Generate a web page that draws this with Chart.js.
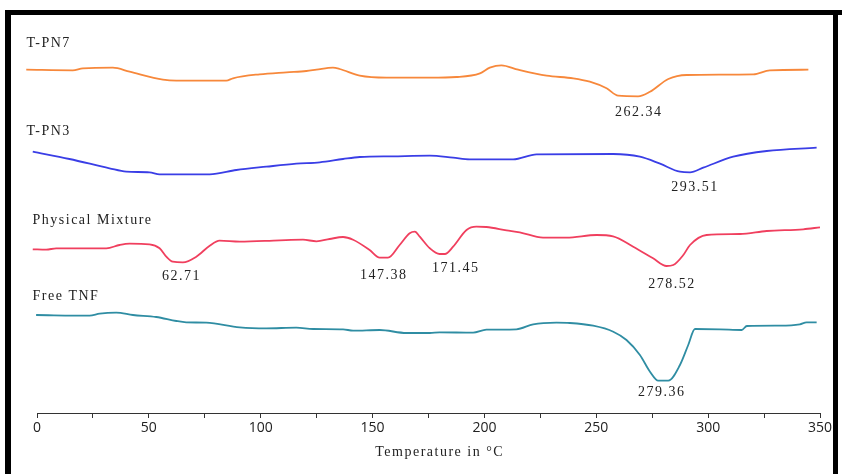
<!DOCTYPE html>
<html>
<head>
<meta charset="utf-8">
<script src="https://cdn.jsdelivr.net/npm/chart.js@4.4.0/dist/chart.umd.min.js"></script>
<style>
  body { margin: 0; background: #fff; }
  #wrap { position: relative; width: 842px; height: 474px; }
  .bar { position: absolute; background: #000; }
</style>
</head>
<body>
<div id="wrap">
  <canvas id="dsc" width="842" height="474"></canvas>
  <div class="bar" style="left:5px;top:10px;width:837px;height:5px"></div>
  <div class="bar" style="left:5px;top:10px;width:6px;height:464px"></div>
  <div class="bar" style="left:833px;top:10px;width:5px;height:464px"></div>
</div>
<script>
// ---------------- data (temperature in degC, curve value = offset heat flow, arbitrary units) ----------------
var tpn7T = [-4.8, 16.0, 20.5, 33.9, 41.4, 56.3, 62.3, 84.6, 87.6, 99.5, 111.5, 120.4, 124.9, 132.3, 135.3, 144.3, 156.2, 175.6, 187.5, 198.0, 202.4, 207.6, 215.1, 227.8, 239.7, 247.1, 254.6, 259.8, 268.7, 274.0, 282.2, 290.4, 320.2, 327.6, 344.8];
var tpn7V = [343.3, 342.7, 344.7, 345.3, 341.3, 333.3, 332.3, 332.3, 334.7, 338.7, 340.7, 342.0, 343.3, 345.3, 344.0, 337.3, 335.3, 335.3, 336.0, 339.7, 345.3, 347.7, 343.3, 337.3, 334.7, 331.3, 324.7, 317.3, 316.7, 321.3, 334.0, 338.0, 338.7, 342.7, 343.3];

var tpn3T = [-1.9, 14.5, 32.4, 39.9, 50.3, 54.8, 77.2, 89.1, 102.5, 115.9, 126.4, 136.8, 144.3, 159.1, 175.6, 186.0, 193.5, 212.8, 223.3, 257.6, 269.5, 278.5, 287.4, 291.9, 297.8, 311.2, 326.2, 348.5];
var tpn3V = [261.3, 254.0, 244.7, 241.3, 240.7, 238.7, 238.7, 243.0, 246.3, 249.3, 250.7, 254.0, 256.0, 256.7, 257.3, 255.3, 253.7, 253.7, 258.7, 259.0, 256.3, 249.3, 241.3, 240.7, 245.3, 256.3, 262.0, 265.3];

var pmT = [-1.9, 4.1, 8.6, 31.0, 36.9, 41.4, 50.3, 54.8, 57.8, 60.7, 65.2, 71.2, 77.2, 81.6, 90.6, 108.5, 118.9, 124.9, 130.8, 136.8, 141.3, 148.7, 153.2, 156.9, 162.1, 166.6, 168.9, 171.1, 175.6, 180.0, 182.3, 186.0, 192.0, 196.4, 200.9, 209.9, 215.8, 226.2, 236.7, 250.1, 257.5, 266.5, 275.4, 281.4, 284.4, 288.9, 291.9, 299.3, 314.2, 326.2, 342.5, 350.0];
var pmV = [163.7, 163.3, 164.7, 164.7, 168.0, 169.3, 168.7, 164.7, 156.3, 151.3, 150.7, 156.3, 167.3, 172.3, 171.3, 172.7, 173.3, 171.7, 174.0, 176.0, 173.3, 163.0, 155.3, 155.3, 168.0, 179.7, 181.3, 176.3, 164.7, 159.0, 159.0, 166.3, 183.0, 186.3, 186.0, 182.7, 180.7, 175.3, 175.3, 178.0, 176.7, 166.3, 154.7, 147.0, 148.0, 158.0, 168.0, 178.0, 179.0, 182.0, 183.7, 185.7];

var tnfT = [-0.4, 23.5, 28.0, 35.4, 42.9, 53.3, 62.3, 66.7, 75.7, 90.6, 102.5, 115.9, 123.4, 136.8, 141.3, 153.2, 165.1, 175.6, 180.0, 194.9, 200.9, 214.3, 221.8, 232.2, 238.2, 248.6, 257.6, 263.5, 269.5, 274.0, 277.7, 282.2, 287.4, 291.1, 294.1, 305.3, 315.0, 317.3, 332.1, 341.0, 344.0, 348.5];
var tnfV = [98.0, 97.3, 99.3, 100.3, 98.0, 96.0, 92.0, 90.7, 90.3, 85.7, 84.7, 85.3, 84.0, 83.7, 82.3, 83.0, 80.0, 80.0, 80.7, 80.3, 83.3, 83.7, 88.7, 90.3, 90.0, 87.3, 81.3, 73.0, 58.0, 41.3, 32.3, 32.3, 48.0, 68.0, 84.0, 83.7, 83.0, 87.0, 87.3, 88.7, 90.7, 90.7];

var seriesNames = ["T-PN7", "T-PN3", "Physical Mixture", "Free TNF"];
var seriesColors = ["#f7883b", "#3a3ee6", "#f03f5e", "#2f8da3"];
var nameT = [-4.7, -4.7, -2.0, -2.0];
var nameV = [370, 282, 193, 117];

var peakTexts = ["262.34", "293.51", "62.71", "147.38", "171.45", "278.52", "279.36"];
var peakT = [269.0, 294.1, 64.6, 155.0, 187.2, 283.8, 279.3];
var peakV = [301, 226, 137, 138, 145, 129, 21];

var xTicks = [0, 50, 100, 150, 200, 250, 300, 350];
var xTitle = "Temperature in \u00B0C";

function pts(t, v) {
  var out = [];
  for (var i = 0; i < t.length; i++) out.push({x: t[i], y: v[i]});
  return out;
}

var curves = [pts(tpn7T, tpn7V), pts(tpn3T, tpn3V), pts(pmT, pmV), pts(tnfT, tnfV)];
var datasets = [];
for (var i = 0; i < curves.length; i++) {
  datasets.push({
    label: seriesNames[i],
    data: curves[i],
    borderColor: seriesColors[i],
    borderWidth: 1.8,
    pointRadius: 0,
    cubicInterpolationMode: 'monotone',
    clip: false
  });
}

// text labels drawn on the canvas
var textPlugin = {
  id: 'texts',
  afterDatasetsDraw: function(chart) {
    var ctx = chart.ctx, xs = chart.scales.x, ys = chart.scales.y;
    ctx.save();
    ctx.fillStyle = '#222';
    ctx.font = '14px "Liberation Serif", serif';
    ctx.letterSpacing = '1.5px';
    ctx.textBaseline = 'middle';
    ctx.textAlign = 'left';
    for (var i = 0; i < seriesNames.length; i++) {
      ctx.fillText(seriesNames[i], xs.getPixelForValue(nameT[i]), ys.getPixelForValue(nameV[i]));
    }
    ctx.textAlign = 'center';
    for (var j = 0; j < peakTexts.length; j++) {
      ctx.fillText(peakTexts[j], xs.getPixelForValue(peakT[j]), ys.getPixelForValue(peakV[j]));
    }
    ctx.fillText(xTitle, xs.getPixelForValue(180), chart.chartArea.bottom + 39);
    ctx.restore();
  }
};

new Chart(document.getElementById('dsc'), {
  type: 'line',
  data: { datasets: datasets },
  options: {
    responsive: false,
    animation: false,
    layout: { padding: { left: 37, right: 22, top: 20, bottom: 0 } },
    plugins: { legend: { display: false }, tooltip: { enabled: false } },
    scales: {
      x: {
        type: 'linear',
        min: 0,
        max: 350,
        afterFit: function(scale) { scale.height = 61; },
        border: { display: true, color: '#333', width: 1 },
        grid: { drawOnChartArea: false, drawTicks: true, tickLength: 5, color: '#333' },
        ticks: {
          stepSize: 25,
          padding: 2,
          color: '#222',
          font: { family: '"Open Sans", sans-serif', size: 14 },
          maxRotation: 0,
          autoSkip: false,
          callback: function(v) { return xTicks.indexOf(v) >= 0 ? String(v) : ''; }
        }
      },
      y: { type: 'linear', display: false, min: 0, max: 393 }
    }
  },
  plugins: [textPlugin]
});
</script>
</body>
</html>
